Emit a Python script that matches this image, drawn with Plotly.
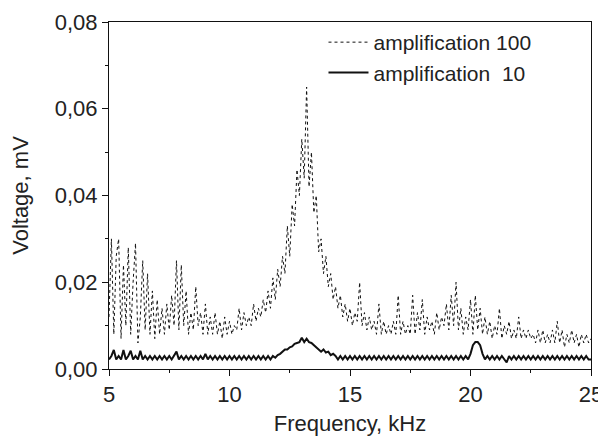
import plotly.graph_objects as go

# Frequency grid (kHz), 0.1 kHz steps from 5.0 to 25.0
freq = [round(5.0 + 0.1 * i, 1) for i in range(201)]

# amplification 100 (dotted), mV
amp100 = [
    0.012, 0.030, 0.008, 0.026, 0.030, 0.007, 0.024, 0.010, 0.028, 0.008,  # 5.0-5.9
    0.020, 0.029, 0.006, 0.012, 0.025, 0.009, 0.022, 0.008, 0.018, 0.007,  # 6.0-6.9
    0.016, 0.008, 0.014, 0.008, 0.015, 0.009, 0.017, 0.010, 0.025, 0.009,  # 7.0-7.9
    0.024, 0.010, 0.018, 0.008, 0.013, 0.009, 0.019, 0.010, 0.013, 0.008,  # 8.0-8.9
    0.015, 0.008, 0.012, 0.008, 0.013, 0.008, 0.011, 0.007, 0.012, 0.008,  # 9.0-9.9
    0.011, 0.008, 0.010, 0.009, 0.014, 0.009, 0.013, 0.010, 0.012, 0.010,  # 10.0-10.9
    0.015, 0.011, 0.014, 0.012, 0.016, 0.013, 0.018, 0.014, 0.021, 0.016,  # 11.0-11.9
    0.023, 0.019, 0.026, 0.022, 0.033, 0.026, 0.038, 0.033, 0.046, 0.040,  # 12.0-12.9
    0.053, 0.044, 0.065, 0.042, 0.050, 0.036, 0.040, 0.027, 0.030, 0.022,  # 13.0-13.9
    0.026, 0.019, 0.022, 0.016, 0.019, 0.014, 0.017, 0.012, 0.015, 0.011,  # 14.0-14.9
    0.014, 0.010, 0.013, 0.011, 0.020, 0.010, 0.013, 0.009, 0.012, 0.009,  # 15.0-15.9
    0.011, 0.008, 0.015, 0.008, 0.011, 0.008, 0.010, 0.008, 0.011, 0.008,  # 16.0-16.9
    0.017, 0.008, 0.011, 0.008, 0.010, 0.008, 0.017, 0.008, 0.013, 0.009,  # 17.0-17.9
    0.016, 0.008, 0.012, 0.009, 0.011, 0.008, 0.013, 0.009, 0.012, 0.010,  # 18.0-18.9
    0.015, 0.009, 0.017, 0.010, 0.020, 0.009, 0.014, 0.008, 0.012, 0.009,  # 19.0-19.9
    0.016, 0.008, 0.017, 0.009, 0.014, 0.008, 0.012, 0.008, 0.011, 0.007,  # 20.0-20.9
    0.010, 0.008, 0.014, 0.007, 0.010, 0.008, 0.011, 0.007, 0.009, 0.007,  # 21.0-21.9
    0.012, 0.007, 0.009, 0.007, 0.009, 0.007, 0.008, 0.006, 0.009, 0.006,  # 22.0-22.9
    0.009, 0.006, 0.008, 0.006, 0.009, 0.006, 0.011, 0.006, 0.009, 0.005,  # 23.0-23.9
    0.008, 0.006, 0.009, 0.006, 0.008, 0.005, 0.008, 0.006, 0.008, 0.006,  # 24.0-24.9
    0.007,                                                                  # 25.0
]

# amplification 10 (solid), mV
amp10 = [
    0.0022, 0.0030, 0.0044, 0.0022, 0.0030, 0.0022, 0.0044, 0.0022, 0.0030, 0.0042,  # 5.0-5.9
    0.0022, 0.0030, 0.0022, 0.0042, 0.0022, 0.0030, 0.0022, 0.0030, 0.0022, 0.0030,  # 6.0-6.9
    0.0022, 0.0030, 0.0022, 0.0030, 0.0022, 0.0030, 0.0022, 0.0030, 0.0040, 0.0022,  # 7.0-7.9
    0.0030, 0.0022, 0.0030, 0.0022, 0.0030, 0.0022, 0.0030, 0.0022, 0.0030, 0.0022,  # 8.0-8.9
    0.0035, 0.0022, 0.0030, 0.0022, 0.0030, 0.0022, 0.0030, 0.0022, 0.0030, 0.0022,  # 9.0-9.9
    0.0030, 0.0022, 0.0030, 0.0022, 0.0030, 0.0022, 0.0030, 0.0022, 0.0030, 0.0022,  # 10.0-10.9
    0.0030, 0.0022, 0.0030, 0.0022, 0.0030, 0.0022, 0.0030, 0.0022, 0.0030, 0.0026,  # 11.0-11.9
    0.0032, 0.0035, 0.0040, 0.0045, 0.0045, 0.0050, 0.0052, 0.0058, 0.0060, 0.0062,  # 12.0-12.9
    0.0072, 0.0062, 0.0070, 0.0062, 0.0060, 0.0055, 0.0052, 0.0045, 0.0040, 0.0045,  # 13.0-13.9
    0.0038, 0.0040, 0.0032, 0.0035, 0.0030, 0.0022, 0.0030, 0.0022, 0.0030, 0.0022,  # 14.0-14.9
    0.0030, 0.0022, 0.0030, 0.0022, 0.0030, 0.0022, 0.0030, 0.0022, 0.0030, 0.0022,  # 15.0-15.9
    0.0030, 0.0022, 0.0030, 0.0022, 0.0030, 0.0022, 0.0030, 0.0022, 0.0030, 0.0022,  # 16.0-16.9
    0.0030, 0.0022, 0.0030, 0.0022, 0.0030, 0.0022, 0.0030, 0.0022, 0.0030, 0.0022,  # 17.0-17.9
    0.0030, 0.0022, 0.0030, 0.0022, 0.0030, 0.0022, 0.0030, 0.0022, 0.0030, 0.0022,  # 18.0-18.9
    0.0030, 0.0022, 0.0030, 0.0022, 0.0030, 0.0022, 0.0030, 0.0022, 0.0030, 0.0022,  # 19.0-19.9
    0.0035, 0.0055, 0.0062, 0.0062, 0.0055, 0.0035, 0.0022, 0.0030, 0.0022, 0.0030,  # 20.0-20.9
    0.0022, 0.0030, 0.0022, 0.0030, 0.0022, 0.0015, 0.0030, 0.0022, 0.0030, 0.0022,  # 21.0-21.9
    0.0030, 0.0022, 0.0030, 0.0022, 0.0030, 0.0022, 0.0030, 0.0022, 0.0030, 0.0022,  # 22.0-22.9
    0.0030, 0.0022, 0.0030, 0.0022, 0.0030, 0.0022, 0.0030, 0.0022, 0.0030, 0.0022,  # 23.0-23.9
    0.0030, 0.0022, 0.0030, 0.0022, 0.0030, 0.0022, 0.0030, 0.0022, 0.0030, 0.0022,  # 24.0-24.9
    0.0022,                                                                          # 25.0
]

x_tickvals = [5, 10, 15, 20, 25]
y_tickvals = [0.00, 0.02, 0.04, 0.06, 0.08]
y_ticktext = ["0,00", "0,02", "0,04", "0,06", "0,08"]

FONT = "Liberation Sans, Arial, sans-serif"
TXT = "#222222"
FS = 22

fig = go.Figure()
fig.add_trace(go.Scatter(
    x=freq, y=amp100, mode="lines", name="amplification 100",
    line=dict(color="#111111", width=1, dash="dot"),
))
fig.add_trace(go.Scatter(
    x=freq, y=amp10, mode="lines", name="amplification\u00a0\u00a010",
    line=dict(color="#111111", width=2),
))

# page body has an 8px default margin, so the figure is sized to fit inside it
fig.update_layout(
    width=598, height=428,
    margin=dict(l=101, r=15, t=14, b=67),
    paper_bgcolor="white", plot_bgcolor="white",
    font=dict(family=FONT, size=FS, color=TXT),
    showlegend=True,
    legend=dict(
        x=0.445, y=1.0, xanchor="left", yanchor="top",
        bgcolor="rgba(0,0,0,0)", borderwidth=0,
        font=dict(family=FONT, size=21, color=TXT),
        tracegroupgap=0, itemwidth=40,
    ),
)
fig.update_xaxes(
    range=[5, 25], tickvals=x_tickvals, ticktext=[str(v) for v in x_tickvals],
    automargin=False,
    showgrid=False, zeroline=False,
    showline=True, linecolor="#111111", linewidth=1, mirror=True,
    ticks="outside", ticklen=6, tickwidth=1, tickcolor="#111111",
    minor=dict(tickvals=[7.5, 12.5, 17.5, 22.5], ticks="outside", ticklen=3, tickcolor="#111111"),
    title=dict(text="Frequency, kHz", standoff=10, font=dict(size=FS)),
    tickfont=dict(size=FS),
)
fig.update_yaxes(
    range=[0, 0.08], tickvals=y_tickvals, ticktext=y_ticktext,
    automargin=False,
    showgrid=False, zeroline=False,
    showline=True, linecolor="#111111", linewidth=1, mirror=True,
    ticks="outside", ticklen=6, tickwidth=1, tickcolor="#111111",
    minor=dict(tickvals=[0.01, 0.03, 0.05, 0.07], ticks="outside", ticklen=3, tickcolor="#111111"),
    title=dict(text="Voltage, mV", standoff=22, font=dict(size=FS)),
    tickfont=dict(size=FS),
)

fig.write_html("out.html")
